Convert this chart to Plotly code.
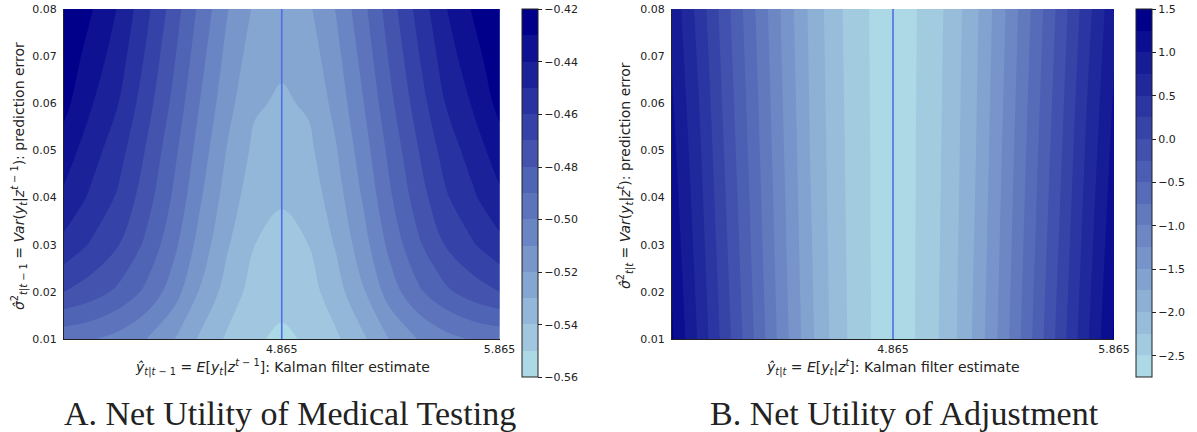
import plotly.graph_objects as go

# ---------------- data ----------------
x_est = [3.865, 3.99, 4.115, 4.24, 4.365, 4.49, 4.615, 4.74, 4.865,
         4.99, 5.115, 5.24, 5.365, 5.49, 5.615, 5.74, 5.865]
y_var = [0.01, 0.02, 0.03, 0.04, 0.05, 0.06, 0.07, 0.08]

# Panel A: net utility of medical testing (rows follow y_var)
z_testing = [
    [-0.4970, -0.4991, -0.5035, -0.5098, -0.5191, -0.5315, -0.5416, -0.5489, -0.5515, -0.5489, -0.5416, -0.5315, -0.5191, -0.5098, -0.5035, -0.4991, -0.4970],
    [-0.4700, -0.4753, -0.4822, -0.4920, -0.5049, -0.5209, -0.5343, -0.5441, -0.5472, -0.5441, -0.5343, -0.5209, -0.5049, -0.4920, -0.4822, -0.4753, -0.4700],
    [-0.4530, -0.4611, -0.4697, -0.4819, -0.4967, -0.5140, -0.5290, -0.5399, -0.5430, -0.5399, -0.5290, -0.5140, -0.4967, -0.4819, -0.4697, -0.4611, -0.4530],
    [-0.4420, -0.4519, -0.4615, -0.4752, -0.4910, -0.5088, -0.5246, -0.5359, -0.5390, -0.5359, -0.5246, -0.5088, -0.4910, -0.4752, -0.4615, -0.4519, -0.4420],
    [-0.4346, -0.4457, -0.4560, -0.4705, -0.4867, -0.5046, -0.5207, -0.5323, -0.5352, -0.5323, -0.5207, -0.5046, -0.4867, -0.4705, -0.4560, -0.4457, -0.4346],
    [-0.4270, -0.4392, -0.4500, -0.4653, -0.4821, -0.5003, -0.5167, -0.5286, -0.5315, -0.5286, -0.5167, -0.5003, -0.4821, -0.4653, -0.4500, -0.4392, -0.4270],
    [-0.4235, -0.4339, -0.4452, -0.4610, -0.4781, -0.4964, -0.5131, -0.5251, -0.5280, -0.5251, -0.5131, -0.4964, -0.4781, -0.4610, -0.4452, -0.4339, -0.4235],
    [-0.4205, -0.4293, -0.4408, -0.4569, -0.4743, -0.4926, -0.5094, -0.5215, -0.5243, -0.5215, -0.5094, -0.4926, -0.4743, -0.4569, -0.4408, -0.4293, -0.4205],
]

# Panel B: net utility of adjustment (rows follow y_var)
z_adjust = [
    [1.282, 0.697, 0.083, -0.522, -1.125, -1.683, -2.142, -2.455, -2.68, -2.455, -2.142, -1.683, -1.125, -0.522, 0.083, 0.697, 1.282],
    [1.232, 0.656, 0.044, -0.553, -1.149, -1.701, -2.150, -2.457, -2.67, -2.457, -2.150, -1.701, -1.149, -0.553, 0.044, 0.656, 1.232],
    [1.181, 0.615, 0.004, -0.585, -1.173, -1.719, -2.159, -2.461, -2.67, -2.461, -2.159, -1.719, -1.173, -0.585, 0.004, 0.615, 1.181],
    [1.131, 0.574, -0.034, -0.616, -1.196, -1.737, -2.168, -2.463, -2.67, -2.463, -2.168, -1.737, -1.196, -0.616, -0.034, 0.574, 1.131],
    [1.081, 0.533, -0.073, -0.647, -1.220, -1.754, -2.176, -2.466, -2.66, -2.466, -2.176, -1.754, -1.220, -0.647, -0.073, 0.533, 1.081],
    [1.031, 0.490, -0.111, -0.679, -1.244, -1.769, -2.185, -2.469, -2.66, -2.469, -2.185, -1.769, -1.244, -0.679, -0.111, 0.490, 1.031],
    [0.980, 0.441, -0.149, -0.710, -1.268, -1.784, -2.193, -2.472, -2.66, -2.472, -2.193, -1.784, -1.268, -0.710, -0.149, 0.441, 0.980],
    [0.930, 0.392, -0.188, -0.741, -1.291, -1.799, -2.202, -2.475, -2.66, -2.475, -2.202, -1.799, -1.291, -0.741, -0.188, 0.392, 0.930],
]

target_x = 4.865
x_tick_vals = [4.865, 5.865]
x_tick_text = ["4.865", "5.865"]
y_tick_vals = [0.01, 0.02, 0.03, 0.04, 0.05, 0.06, 0.07, 0.08]
cb_a_ticks = [-0.56, -0.54, -0.52, -0.50, -0.48, -0.46, -0.44, -0.42]
cb_b_ticks = [-2.5, -2.0, -1.5, -1.0, -0.5, 0.0, 0.5, 1.0, 1.5]
levels_a = dict(start=-0.55, end=-0.43, size=0.01, lo=-0.56, hi=-0.42)
levels_b = dict(start=-2.5, end=1.25, size=0.25, lo=-2.75, hi=1.5)

title_a = "A. Net Utility of Medical Testing"
title_b = "B. Net Utility of Adjustment"
xlab_a = ("<i>ŷ</i><sub><i>t</i>|<i>t</i> − 1</sub> = <i>E</i>[<i>y</i><sub><i>t</i></sub>|"
          "<i>z</i><sup><i>t</i> − 1</sup>]: Kalman filter estimate")
xlab_b = ("<i>ŷ</i><sub><i>t</i>|<i>t</i></sub> = <i>E</i>[<i>y</i><sub><i>t</i></sub>|"
          "<i>z</i><sup><i>t</i></sup>]: Kalman filter estimate")
ylab_a = ("<i>σ̂</i><sup>2</sup><sub><i>t</i>|<i>t</i> − 1</sub> = <i>Var</i>(<i>y</i><sub><i>t</i></sub>|"
          "<i>z</i><sup><i>t</i> − 1</sup>): prediction error")
ylab_b = ("<i>σ̂</i><sup>2</sup><sub><i>t</i>|<i>t</i></sub> = <i>Var</i>(<i>y</i><sub><i>t</i></sub>|"
          "<i>z</i><sup><i>t</i></sup>): prediction error")

# ---------------- styling helpers ----------------
W, H = 1197, 432
LIGHT = (173, 216, 230)
DARK = (0, 0, 139)
FONT = "DejaVu Sans"


def lerp(t):
    return "rgb(%d,%d,%d)" % tuple(round(a + (b - a) * t) for a, b in zip(LIGHT, DARK))


def stepped(n):
    cs = []
    for k in range(n):
        col = lerp(k / (n - 1))
        cs.append([k / n, col])
        cs.append([(k + 1) / n, col])
    return cs


def px(xp):
    return xp / W


def py(yp):
    return 1 - yp / H


plot_top, plot_bot = 9, 339
dom_y = [py(plot_bot), py(plot_top)]
dom_x1 = [px(64), px(499.5)]
dom_x2 = [px(672), px(1114)]

fig = go.Figure()


def add_panel(z, lev, xa, ya, cb_x, cb_ticks, fmt):
    nb = int(round((lev["hi"] - lev["lo"]) / lev["size"]))
    fig.add_trace(go.Contour(
        x=x_est, y=y_var, z=z, xaxis=xa, yaxis=ya,
        colorscale=[[0, lerp(0)], [1, lerp(1)]],
        autocontour=False,
        contours=dict(start=lev["start"], end=lev["end"], size=lev["size"],
                      coloring="fill", showlines=False),
        line=dict(width=0), showscale=False, hoverinfo="skip"))
    fig.add_trace(go.Scatter(
        x=[target_x, target_x], y=[0.045, 0.045], xaxis=xa, yaxis=ya,
        mode="markers", hoverinfo="skip", showlegend=False,
        marker=dict(size=1, opacity=0, color=[lev["lo"], lev["hi"]],
                    cmin=lev["lo"], cmax=lev["hi"], colorscale=stepped(nb),
                    showscale=True,
                    colorbar=dict(x=cb_x, xanchor="left", y=py(9.3), yanchor="top",
                                  len=(377.7 - 9.3) / H, lenmode="fraction",
                                  thickness=16, thicknessmode="pixels",
                                  xpad=0, ypad=0, outlinewidth=1, outlinecolor="#222",
                                  ticks="outside", ticklen=4, tickcolor="#222",
                                  tickvals=cb_ticks, tickformat=fmt,
                                  tickfont=dict(family=FONT, size=11, color="#222")))))
    fig.add_shape(type="line", xref=xa, yref=ya, x0=target_x, x1=target_x,
                  y0=y_var[0], y1=y_var[-1], line=dict(color="#4F6FE8", width=1.6))


add_panel(z_testing, levels_a, "x", "y", px(522.3), cb_a_ticks, ".2f")
add_panel(z_adjust, levels_b, "x2", "y2", px(1136), cb_b_ticks, ".1f")

axis_common = dict(showgrid=False, zeroline=False, showline=True, linecolor="#222",
                   linewidth=1.2, ticks="", automargin=False,
                   tickfont=dict(family=FONT, size=11, color="#222"))
xcommon = dict(axis_common, range=[x_est[0], x_est[-1]], tickvals=x_tick_vals,
               ticktext=x_tick_text)
ycommon = dict(axis_common, range=[y_var[0], y_var[-1]], tickvals=y_tick_vals,
               tickformat=".2f", ticklabelstandoff=4)

annots = []
title_font = dict(family="Liberation Serif", size=34, color="#222")
annots.append(dict(text=title_a, x=px(289.5), y=py(413), xref="paper", yref="paper",
                   showarrow=False, xanchor="center", yanchor="middle", font=title_font))
annots.append(dict(text=title_b, x=px(904), y=py(413), xref="paper", yref="paper",
                   showarrow=False, xanchor="center", yanchor="middle", font=title_font))
lab_font = dict(family=FONT, size=14, color="#222")
annots.append(dict(text=xlab_a, x=px(282), y=py(367), xref="paper", yref="paper",
                   showarrow=False, xanchor="center", yanchor="middle", font=lab_font))
annots.append(dict(text=xlab_b, x=px(893), y=py(367), xref="paper", yref="paper",
                   showarrow=False, xanchor="center", yanchor="middle", font=lab_font))
annots.append(dict(text=ylab_a, x=px(19), y=py(176), xref="paper", yref="paper",
                   showarrow=False, xanchor="center", yanchor="middle", textangle=-90,
                   font=lab_font))
annots.append(dict(text=ylab_b, x=px(625), y=py(176), xref="paper", yref="paper",
                   showarrow=False, xanchor="center", yanchor="middle", textangle=-90,
                   font=lab_font))

fig.update_layout(
    template="none", width=W, height=H, autosize=False,
    margin=dict(l=0, r=0, t=0, b=0, pad=0),
    paper_bgcolor="white", plot_bgcolor="white", showlegend=False,
    xaxis=dict(xcommon, domain=dom_x1, anchor="y"),
    yaxis=dict(ycommon, domain=dom_y, anchor="x"),
    xaxis2=dict(xcommon, domain=dom_x2, anchor="y2"),
    yaxis2=dict(ycommon, domain=dom_y, anchor="x2"),
    annotations=annots,
)

fig.write_html("out.html")
